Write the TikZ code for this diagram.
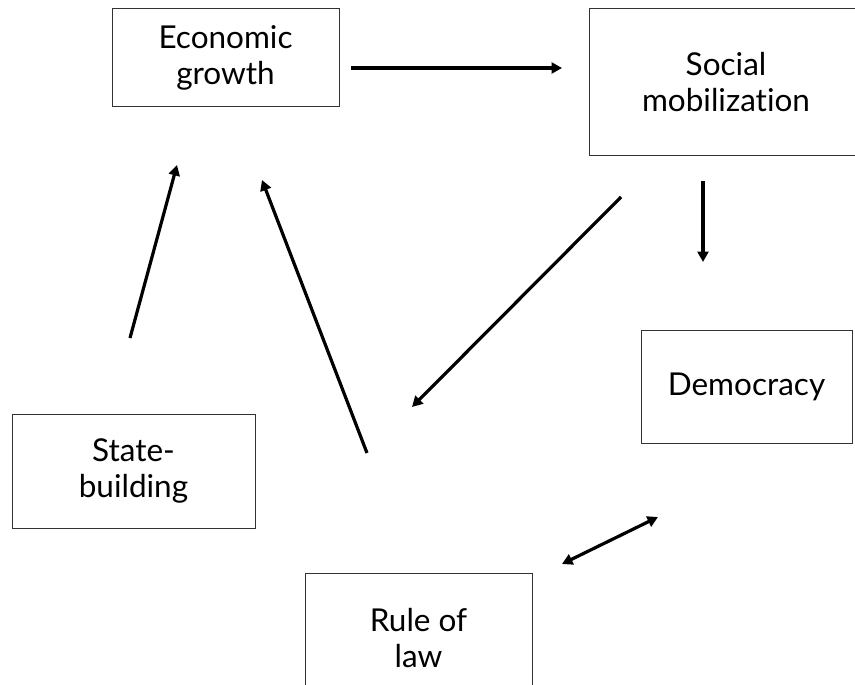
\documentclass[tikz,border=0pt]{standalone}
\usepackage{fontspec}
\setmainfont{Lato}[Ligatures=NoCommon]
\usetikzlibrary{arrows.meta}
\begin{document}
\begin{tikzpicture}[x=1pt,y=-1pt,
  box/.style={draw=black!80, line width=1pt, rectangle, align=center, inner sep=0pt,
    font=\fontsize{31.5}{36}\selectfont},
  conn/.style={line width=3.2pt, -{Triangle[length=10.5pt,width=11pt]}},
  biconn/.style={line width=3.2pt, {Triangle[length=10.5pt,width=11pt]}-{Triangle[length=10.5pt,width=11pt]}}]
\useasboundingbox (0,0) rectangle (855,685);
\clip (0,0) rectangle (855,685);
\node[box, minimum width=227pt, minimum height=98pt] (eg) at (225.5,58) {Economic\\growth};
\node[box, minimum width=274pt, minimum height=146pt] (sm) at (726,82) {Social\\mobilization};
\node[box, minimum width=211pt, minimum height=113pt] (dem) at (746.5,386.5) {Democracy};
\node[box, minimum width=243pt, minimum height=114pt] (sb) at (133.5,471) {State-\\building};
\node[box, minimum width=227pt, minimum height=130pt] (rol) at (418.5,638) {Rule of\\law};
% connector end points
\coordinate (a1s) at (351,68);  \coordinate (a1e) at (562,68);
\coordinate (a2s) at (703,181); \coordinate (a2e) at (703,262);
\coordinate (a3s) at (621,197); \coordinate (a3e) at (412,407);
\coordinate (a4s) at (130,338); \coordinate (a4e) at (177,165);
\coordinate (a5s) at (367,453); \coordinate (a5e) at (262,180);
\coordinate (a6s) at (562,564); \coordinate (a6e) at (658,517);
\draw[conn] (a1s) -- (a1e);
\draw[conn] (a2s) -- (a2e);
\draw[conn] (a3s) -- (a3e);
\draw[conn] (a4s) -- (a4e);
\draw[conn] (a5s) -- (a5e);
\draw[biconn] (a6s) -- (a6e);
\end{tikzpicture}
\end{document}
